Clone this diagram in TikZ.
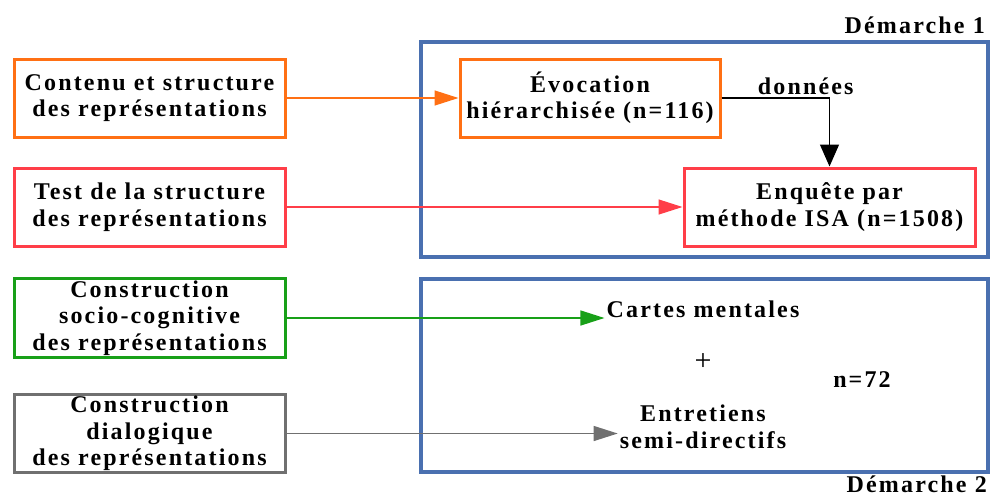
\documentclass[tikz,border=0pt]{standalone}
\usepackage{fontspec}
\setmainfont{Liberation Serif}[LetterSpace=9]
\usetikzlibrary{arrows.meta,positioning}

\definecolor{boxorange}{RGB}{255,112,20}
\definecolor{boxred}{RGB}{255,62,72}
\definecolor{boxgreen}{RGB}{24,160,24}
\definecolor{boxgray}{RGB}{112,112,112}
\definecolor{frameblue}{RGB}{74,112,176}

\begin{document}
\begin{tikzpicture}[x=1pt,y=-1pt,
  txt/.style={font=\bfseries\fontsize{24}{26.5}\selectfont, align=center, inner sep=2pt},
  framebox/.style={draw=frameblue, line width=3.2pt},
  leftbox/.style={txt, draw, line width=3pt, minimum width=271pt, minimum height=78pt},
  midbox/.style={txt, draw, line width=3pt, minimum height=78pt},
  link/.style={line width=1.3pt, -{Triangle[length=24pt,width=15pt]}}]
  \useasboundingbox (0,0) rectangle (992,496);
  % Frames
  \draw[framebox] (421,42) rectangle (988,257);
  \draw[framebox] (421,279) rectangle (988,472);
  \node[txt, anchor=base east] (dem1) at (987,33) {Démarche 1};
  \node[txt, anchor=base east, inner sep=0pt] (dem2) at (987,492) {Démarche 2};
  % Left column
  \node[leftbox, draw=boxorange] (contenu) at (149.5,98) {Contenu et structure\\des représentations};
  \node[leftbox, draw=boxred] (test) at (149.5,207) {Test de la structure\\des représentations};
  \node[leftbox, draw=boxgreen] (socio) at (149.5,318) {Construction\\socio-cognitive\\des représentations};
  \node[leftbox, draw=boxgray] (dialog) at (149.5,433.5) {Construction\\dialogique\\des représentations};
  % Demarche 1
  \node[midbox, draw=boxorange, minimum width=260pt] (evoc) at (590,98) {Évocation\\hiérarchisée (n=116)};
  \node[midbox, draw=boxred, minimum width=291pt] (enquete) at (829.5,207) {Enquête par\\méthode ISA (n=1508)};
  % Demarche 2
  \node[txt] (cartes) at (703,309) {Cartes mentales};
  \node[txt, font=\mdseries\fontsize{30}{32}\selectfont] (plus) at (703,362) {+};
  \node[txt] (entretiens) at (703,427) {Entretiens\\semi-directifs};
  \node[txt] (n72) at (862,380) {n=72};
  % Links
  \draw[link, boxorange] (contenu) -- (evoc);
  \draw[link, boxred] (test) -- (enquete);
  \draw[link, boxgreen] (socio.east) -- (socio.east -| cartes.west);
  \draw[link, boxgray] (dialog.east) -- (dialog.east -| entretiens.west);
  \draw[line width=1.3pt, -{Triangle[length=22pt,width=19pt]}] (evoc.east) -| (enquete.north)
    node[txt, pos=0.39, above=1pt] {données};
\end{tikzpicture}
\end{document}
